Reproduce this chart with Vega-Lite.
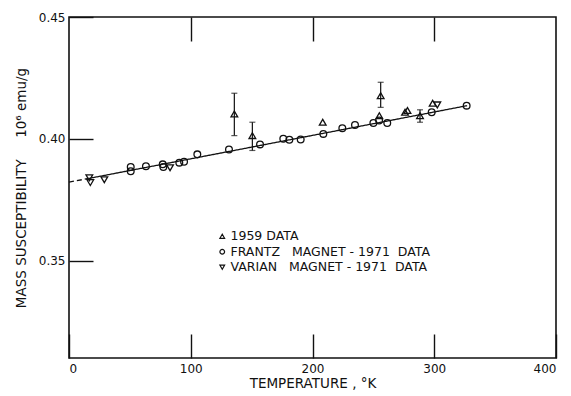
{
  "$schema": "https://vega.github.io/schema/vega-lite/v6.json",
  "width": 487,
  "height": 341,
  "autosize": {"type": "none"},
  "padding": {"left": 69, "top": 17, "right": 15, "bottom": 38},
  "background": "white",
  "config": {
    "font": "DejaVu Sans",
    "view": {"stroke": "#111", "strokeWidth": 1.6},
    "axis": {"domain": false, "grid": false, "tickColor": "#111", "tickWidth": 1.4, "labelColor": "#111", "labelFontSize": 12, "titleColor": "#111", "titleFontSize": 13.5, "titleFontWeight": "normal"},
    "legend": {"labelFontSize": 12.5, "labelColor": "#111", "symbolStrokeColor": "#111", "symbolStrokeWidth": 1.2, "labelLimit": 400}
  },
  "datasets": {
    "pts": [
      {"t": 135.8, "chi": 0.4102, "set": "1959 DATA"},
      {"t": 150.6, "chi": 0.4013, "set": "1959 DATA"},
      {"t": 208.4, "chi": 0.4068, "set": "1959 DATA"},
      {"t": 256.0, "chi": 0.4177, "set": "1959 DATA"},
      {"t": 254.9, "chi": 0.4095, "set": "1959 DATA"},
      {"t": 276.0, "chi": 0.4109, "set": "1959 DATA"},
      {"t": 278.0, "chi": 0.4116, "set": "1959 DATA"},
      {"t": 288.3, "chi": 0.4095, "set": "1959 DATA"},
      {"t": 298.7, "chi": 0.4146, "set": "1959 DATA"},
      {"t": 50.7, "chi": 0.3884, "set": "FRANTZ\u00a0\u00a0 MAGNET - 1971\u00a0 DATA"},
      {"t": 50.7, "chi": 0.3867, "set": "FRANTZ\u00a0\u00a0 MAGNET - 1971\u00a0 DATA"},
      {"t": 63.2, "chi": 0.3887, "set": "FRANTZ\u00a0\u00a0 MAGNET - 1971\u00a0 DATA"},
      {"t": 77.0, "chi": 0.3895, "set": "FRANTZ\u00a0\u00a0 MAGNET - 1971\u00a0 DATA"},
      {"t": 77.5, "chi": 0.3884, "set": "FRANTZ\u00a0\u00a0 MAGNET - 1971\u00a0 DATA"},
      {"t": 90.6, "chi": 0.3902, "set": "FRANTZ\u00a0\u00a0 MAGNET - 1971\u00a0 DATA"},
      {"t": 94.5, "chi": 0.3906, "set": "FRANTZ\u00a0\u00a0 MAGNET - 1971\u00a0 DATA"},
      {"t": 105.4, "chi": 0.3936, "set": "FRANTZ\u00a0\u00a0 MAGNET - 1971\u00a0 DATA"},
      {"t": 131.4, "chi": 0.3956, "set": "FRANTZ\u00a0\u00a0 MAGNET - 1971\u00a0 DATA"},
      {"t": 156.9, "chi": 0.3977, "set": "FRANTZ\u00a0\u00a0 MAGNET - 1971\u00a0 DATA"},
      {"t": 176.0, "chi": 0.4000, "set": "FRANTZ\u00a0\u00a0 MAGNET - 1971\u00a0 DATA"},
      {"t": 181.0, "chi": 0.3996, "set": "FRANTZ\u00a0\u00a0 MAGNET - 1971\u00a0 DATA"},
      {"t": 190.3, "chi": 0.3997, "set": "FRANTZ\u00a0\u00a0 MAGNET - 1971\u00a0 DATA"},
      {"t": 208.9, "chi": 0.4020, "set": "FRANTZ\u00a0\u00a0 MAGNET - 1971\u00a0 DATA"},
      {"t": 224.5, "chi": 0.4043, "set": "FRANTZ\u00a0\u00a0 MAGNET - 1971\u00a0 DATA"},
      {"t": 234.9, "chi": 0.4057, "set": "FRANTZ\u00a0\u00a0 MAGNET - 1971\u00a0 DATA"},
      {"t": 250.0, "chi": 0.4065, "set": "FRANTZ\u00a0\u00a0 MAGNET - 1971\u00a0 DATA"},
      {"t": 254.7, "chi": 0.4075, "set": "FRANTZ\u00a0\u00a0 MAGNET - 1971\u00a0 DATA"},
      {"t": 261.4, "chi": 0.4065, "set": "FRANTZ\u00a0\u00a0 MAGNET - 1971\u00a0 DATA"},
      {"t": 297.9, "chi": 0.4109, "set": "FRANTZ\u00a0\u00a0 MAGNET - 1971\u00a0 DATA"},
      {"t": 326.6, "chi": 0.4136, "set": "FRANTZ\u00a0\u00a0 MAGNET - 1971\u00a0 DATA"},
      {"t": 16.7, "chi": 0.3840, "set": "VARIAN\u00a0\u00a0 MAGNET - 1971\u00a0 DATA"},
      {"t": 17.5, "chi": 0.3820, "set": "VARIAN\u00a0\u00a0 MAGNET - 1971\u00a0 DATA"},
      {"t": 29.0, "chi": 0.3832, "set": "VARIAN\u00a0\u00a0 MAGNET - 1971\u00a0 DATA"},
      {"t": 83.0, "chi": 0.3881, "set": "VARIAN\u00a0\u00a0 MAGNET - 1971\u00a0 DATA"},
      {"t": 302.5, "chi": 0.4139, "set": "VARIAN\u00a0\u00a0 MAGNET - 1971\u00a0 DATA"}
    ],
    "err": [
      {"t": 135.8, "lo": 0.4013, "hi": 0.4187},
      {"t": 150.6, "lo": 0.3952, "hi": 0.4068},
      {"t": 256.0, "lo": 0.4129, "hi": 0.4232},
      {"t": 288.3, "lo": 0.4068, "hi": 0.4119}
    ],
    "fit": [
      {"t": 0, "chi": 0.3822, "seg": "extrapolated"},
      {"t": 16, "chi": 0.3837, "seg": "extrapolated"},
      {"t": 16, "chi": 0.3837, "seg": "fit"},
      {"t": 327, "chi": 0.4136, "seg": "fit"}
    ]
  },
  "layer": [
    {
      "data": {"name": "fit"},
      "mark": {"type": "line", "color": "#111", "strokeWidth": 1.3},
      "encoding": {
        "x": {"field": "t", "type": "quantitative", "scale": {"domain": [0, 400], "nice": false},
          "axis": {"orient": "top", "values": [100, 200, 300], "labels": false, "tickSize": -24, "title": null}},
        "y": {"field": "chi", "type": "quantitative", "scale": {"domain": [0.31, 0.45], "nice": false, "zero": false},
          "axis": {"orient": "left", "values": [0.35, 0.4, 0.45], "format": ".2f", "tickSize": -24, "labelPadding": 28,
            "title": "MASS SUSCEPTIBILITY\u00a0\u00a0\u00a0\u00a0 10\u2076 emu/g", "titlePadding": 10}},
        "detail": {"field": "seg"},
        "strokeDash": {"field": "seg", "type": "nominal", "scale": {"domain": ["extrapolated", "fit"], "range": [[5, 3], [1, 0]]}, "legend": null}
      }
    },
    {
      "data": {"name": "err"},
      "mark": {"type": "rule", "color": "#111", "strokeWidth": 1.2},
      "encoding": {
        "x": {"field": "t", "type": "quantitative", "axis": null},
        "y": {"field": "lo", "type": "quantitative"},
        "y2": {"field": "hi"}
      }
    },
    {
      "data": {"name": "err"},
      "mark": {"type": "tick", "orient": "horizontal", "color": "#111", "size": 6, "thickness": 1.2},
      "encoding": {
        "x": {"field": "t", "type": "quantitative", "axis": null},
        "y": {"field": "lo", "type": "quantitative"}
      }
    },
    {
      "data": {"name": "err"},
      "mark": {"type": "tick", "orient": "horizontal", "color": "#111", "size": 6, "thickness": 1.2},
      "encoding": {
        "x": {"field": "t", "type": "quantitative", "axis": null},
        "y": {"field": "hi", "type": "quantitative"}
      }
    },
    {
      "data": {"name": "pts"},
      "mark": {"type": "point", "filled": false, "color": "#111", "strokeWidth": 1.3, "size": 45, "opacity": 1},
      "encoding": {
        "x": {"field": "t", "type": "quantitative",
          "axis": {"orient": "bottom", "values": [0, 100, 200, 300, 400], "tickSize": -24, "labelPadding": 29,
            "title": "TEMPERATURE , \u00b0K", "titlePadding": 2}},
        "y": {"field": "chi", "type": "quantitative"},
        "shape": {"field": "set", "type": "nominal",
          "scale": {"domain": ["1959 DATA", "FRANTZ\u00a0\u00a0 MAGNET - 1971\u00a0 DATA", "VARIAN\u00a0\u00a0 MAGNET - 1971\u00a0 DATA"],
            "range": ["triangle-up", "circle", "triangle-down"]},
          "legend": {"orient": "none", "legendX": 147, "legendY": 213, "title": null, "symbolSize": 22, "labelOffset": 2, "rowPadding": 2.5}}
      }
    }
  ],
  "resolve": {"axis": {"x": "independent"}}
}
